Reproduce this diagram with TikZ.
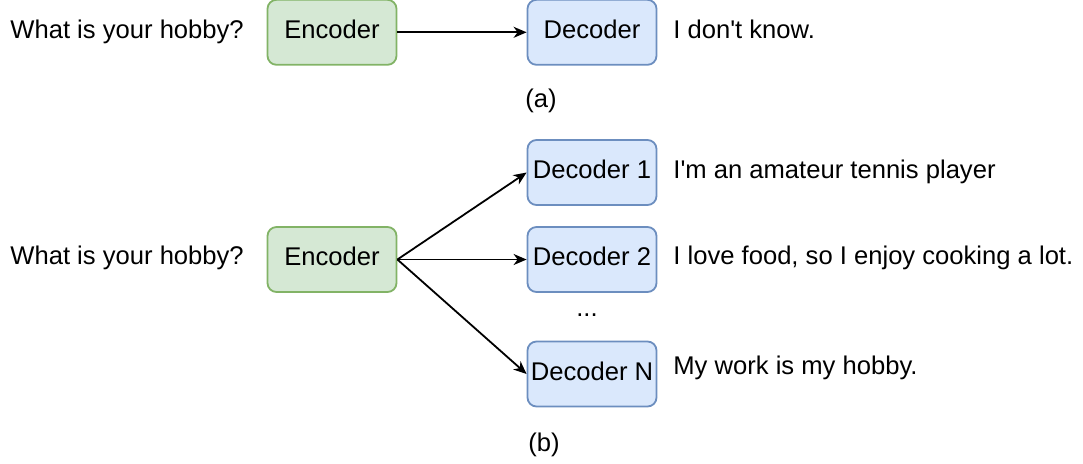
\documentclass[tikz,border=0pt]{standalone}
\usepackage{fontspec}
\setmainfont{Liberation Sans}
\usetikzlibrary{arrows.meta}
\definecolor{encfill}{HTML}{D5E8D4}
\definecolor{encline}{HTML}{82B366}
\definecolor{decfill}{HTML}{DAE8FC}
\definecolor{decline}{HTML}{6C8EBF}
\begin{document}
\begin{tikzpicture}[x=0.5pt,y=-0.5pt,
  every node/.style={font=\fontsize{12.8pt}{15pt}\selectfont},
  box/.style={rounded corners=4.5pt, line width=0.9pt, minimum width=64.5pt, minimum height=32.5pt,
    inner sep=0pt, text height=9.2pt, text depth=3.2pt},
  enc/.style={box, fill=encfill, draw=encline},
  dec/.style={box, fill=decfill, draw=decline},
  txt/.style={anchor=base west, inner sep=0pt},
  plain/.style={anchor=base, inner sep=0pt},
  link/.style={line width=0.9pt, -{Stealth[length=6.5pt,width=5.5pt,inset=2pt]}}]
\useasboundingbox (0,0) rectangle (1083,463);
% (a) single decoder
\node[txt] (qa) at (10,38.3) {What is your hobby?};
\node[enc] (enca) at (332,32.3) {Encoder};
\node[dec] (deca) at (592,32.3) {Decoder};
\node[txt] (ra) at (673,38.3) {I don\textquotesingle t know.};
\node[plain] (capa) at (541,107.7) {(a)};
\draw[link] (enca.east) -- (deca.west);
% (b) several decoders
\node[txt] (qb) at (10,264.3) {What is your hobby?};
\node[enc] (encb) at (332,259.5) {Encoder};
\node[dec] (dec1) at (592,172.5) {Decoder 1};
\node[dec] (dec2) at (592,259.5) {Decoder 2};
\node[dec] (decn) at (592,374) {Decoder N};
\node[plain] (dots) at (587,316) {...};
\node[txt] (r1) at (673,178.3) {I\textquotesingle m an amateur tennis player};
\node[txt] (r2) at (673,264.3) {I love food, so I enjoy cooking a lot.};
\node[txt] (rn) at (673,374.3) {My work is my hobby.};
\node[plain] (capb) at (544,451.7) {(b)};
\draw[link] (encb.east) -- (dec1.west);
\draw[link] (encb.east) -- (dec2.west);
\draw[link] (encb.east) -- (decn.west);
\end{tikzpicture}
\end{document}
